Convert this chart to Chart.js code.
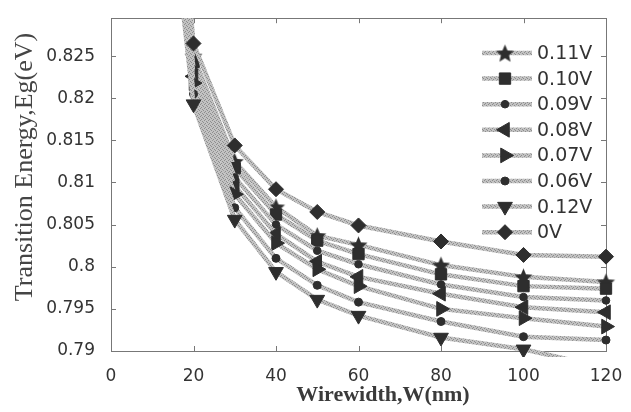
<!DOCTYPE html>
<html><head><meta charset="utf-8">
<script src="https://cdn.jsdelivr.net/npm/chart.js@4.4.1/dist/chart.umd.min.js"></script>
<style>html,body{margin:0;padding:0;background:#fff;overflow:hidden}#wrap{position:relative;width:631px;height:412px}</style>
</head><body><div id="wrap"><canvas id="c" width="631" height="412"></canvas></div>
<script>
// ---- data ----
const widths = [10, 20, 30, 40, 50, 60, 80, 100, 120];
const seriesLabels = ['0.11V', '0.10V', '0.09V', '0.08V', '0.07V', '0.06V', '0.12V', '0V'];
const v011 = [0.877, 0.8250, 0.8125, 0.8071, 0.8037, 0.8026, 0.8002, 0.7988, 0.7982];
const v010 = [0.875, 0.8243, 0.8117, 0.8062, 0.8031, 0.8015, 0.7991, 0.7977, 0.7974];
const v009 = [0.873, 0.8234, 0.8106, 0.8050, 0.8019, 0.8003, 0.7979, 0.7964, 0.7960];
const v008 = [0.871, 0.8226, 0.8096, 0.8039, 0.8006, 0.7988, 0.7968, 0.7952, 0.7946];
const v007 = [0.869, 0.8218, 0.8086, 0.8028, 0.7997, 0.7977, 0.7950, 0.7939, 0.7929];
const v006 = [0.866, 0.8205, 0.8070, 0.8010, 0.7978, 0.7958, 0.7935, 0.7917, 0.7913];
const v012 = [0.863, 0.8193, 0.8056, 0.7994, 0.7961, 0.7942, 0.7916, 0.7902, 0.7880];
const v000 = [0.880, 0.8265, 0.8144, 0.8092, 0.8065, 0.8049, 0.8030, 0.8014, 0.8012];
const xTicks = [0, 20, 40, 60, 80, 100, 120];
const yTicks = [0.79, 0.795, 0.8, 0.805, 0.81, 0.815, 0.82, 0.825];
const xTitle = 'Wirewidth,W(nm)';
const yTitle = 'Transition Energy,Eg(eV)';
const X_MIN = 0, X_MAX = 120, Y_MIN = 0.79, Y_MAX = 0.8295;

// ---- styles ----
const MARK = '#2e2e2e';
function makeHatch() {
  const c = document.createElement('canvas'); c.width = 4; c.height = 4;
  const g = c.getContext('2d');
  g.fillStyle = '#c2c2c2'; g.fillRect(0, 0, 4, 4);
  g.fillStyle = '#8e8e8e';
  g.fillRect(0, 0, 1, 1); g.fillRect(2, 1, 1, 1); g.fillRect(1, 3, 1, 1); g.fillRect(3, 2, 1, 1);
  return g.createPattern(c, 'repeat');
}
function makeStar(R) {
  const s = Math.ceil(R * 2 + 2);
  const c = document.createElement('canvas'); c.width = s; c.height = s;
  const g = c.getContext('2d'); g.translate(s / 2, s / 2 + 1); g.beginPath();
  for (let i = 0; i < 10; i++) {
    const r = i % 2 ? R * 0.45 : R; const a = -Math.PI / 2 + i * Math.PI / 5;
    g.lineTo(r * Math.cos(a), r * Math.sin(a));
  }
  g.closePath(); g.fillStyle = MARK; g.fill(); return c;
}
const hatch = makeHatch();
const star = makeStar(9.5);
const markers = [
  { style: star, radius: 9, rot: 0 },
  { style: 'rect', radius: 8, rot: 0 },
  { style: 'circle', radius: 3.8, rot: 0 },
  { style: 'triangle', radius: 8.5, rot: -90 },
  { style: 'triangle', radius: 8.5, rot: 90 },
  { style: 'circle', radius: 4, rot: 0 },
  { style: 'triangle', radius: 8.5, rot: 180 },
  { style: 'rectRot', radius: 7.5, rot: 0 }
];
const allSeries = [v011, v010, v009, v008, v007, v006, v012, v000];

const datasets = allSeries.map((vals, i) => ({
  label: seriesLabels[i],
  data: widths.map((w, k) => ({ x: w, y: vals[k] })),
  borderColor: hatch, borderWidth: 4.5, tension: 0, fill: false,
  pointStyle: markers[i].style, pointRotation: markers[i].rot,
  pointRadius: c => (c.parsed && (c.parsed.y > Y_MAX || c.parsed.y < Y_MIN)) ? 0 : markers[i].radius,
  pointBackgroundColor: MARK, pointBorderColor: MARK, pointBorderWidth: 1,
  order: allSeries.length - i,
  clip: { left: 10, top: 0, right: 12, bottom: 6 }
}));

const decor = {
  id: 'decor',
  beforeDatasetsDraw(chart) {
    const { ctx, chartArea: a, scales: { x, y } } = chart;
    ctx.save();
    ctx.strokeStyle = '#777'; ctx.lineWidth = 1;
    ctx.strokeRect(Math.round(a.left) + 0.5, Math.round(a.top) + 0.5, Math.round(a.right - a.left), Math.round(a.bottom - a.top));
    ctx.beginPath();
    xTicks.forEach(v => {
      const px = Math.round(x.getPixelForValue(v)) + 0.5;
      ctx.moveTo(px, a.bottom); ctx.lineTo(px, a.bottom - 5);
      ctx.moveTo(px, a.top); ctx.lineTo(px, a.top + 5);
    });
    yTicks.forEach(v => {
      const py = Math.round(y.getPixelForValue(v)) + 0.5;
      ctx.moveTo(a.left, py); ctx.lineTo(a.left + 5, py);
      ctx.moveTo(a.right, py); ctx.lineTo(a.right - 5, py);
    });
    ctx.stroke();
    ctx.restore();
  },
  afterDatasetsDraw(chart) {
    const { ctx } = chart;
    ctx.save();
    // legend
    const lx0 = 482, lx1 = 532, mx = 505, tx = 537, y0 = 53, dy = 25.6;
    chart.data.datasets.forEach((ds, i) => {
      const yy = y0 + i * dy;
      ctx.strokeStyle = hatch; ctx.lineWidth = 4.5;
      ctx.beginPath(); ctx.moveTo(lx0, yy); ctx.lineTo(lx1, yy); ctx.stroke();
      ctx.fillStyle = MARK; ctx.strokeStyle = MARK; ctx.lineWidth = 1;
      Chart.helpers.drawPoint(ctx, { pointStyle: markers[i].style, rotation: markers[i].rot, radius: markers[i].radius, borderWidth: 1 }, mx, yy);
      ctx.fillStyle = '#333'; ctx.font = '19px "DejaVu Sans"';
      ctx.textAlign = 'left'; ctx.textBaseline = 'middle';
      ctx.fillText(ds.label, tx, yy + 1);
    });
    // axis titles
    ctx.fillStyle = '#3a3a3a';
    ctx.font = 'bold 22px "Liberation Serif"';
    ctx.textAlign = 'center'; ctx.textBaseline = 'middle';
    ctx.fillText(xTitle, 383, 395);
    ctx.translate(25, 167); ctx.rotate(-Math.PI / 2);
    ctx.fillStyle = '#454545';
    ctx.font = '26px "Liberation Serif"';
    ctx.fillText(yTitle, 0, 0);
    ctx.restore();
  }
};

new Chart(document.getElementById('c'), {
  type: 'line',
  data: { datasets },
  plugins: [decor],
  options: {
    responsive: false, animation: false, devicePixelRatio: 1, events: [],
    layout: { padding: { top: 9, right: 25, left: 0, bottom: 0 } },
    plugins: { legend: { display: false }, tooltip: { enabled: false }, title: { display: false } },
    scales: {
      x: {
        type: 'linear', min: X_MIN, max: X_MAX,
        afterBuildTicks: s => { s.ticks = xTicks.map(v => ({ value: v })); },
        afterFit: s => { s.height = 61; },
        grid: { display: false }, border: { display: false },
        ticks: { padding: 7, autoSkip: false, maxRotation: 0, color: '#333', font: { family: 'DejaVu Sans', size: 17 }, callback: v => String(v) }
      },
      y: {
        type: 'linear', min: Y_MIN, max: Y_MAX,
        afterBuildTicks: s => { s.ticks = yTicks.map(v => ({ value: v })); },
        afterFit: s => { s.width = 111; },
        grid: { display: false }, border: { display: false },
        ticks: { padding: 8, autoSkip: false, color: '#333', font: { family: 'DejaVu Sans', size: 17 }, callback: v => String(v) }
      }
    }
  }
});
</script></body></html>
